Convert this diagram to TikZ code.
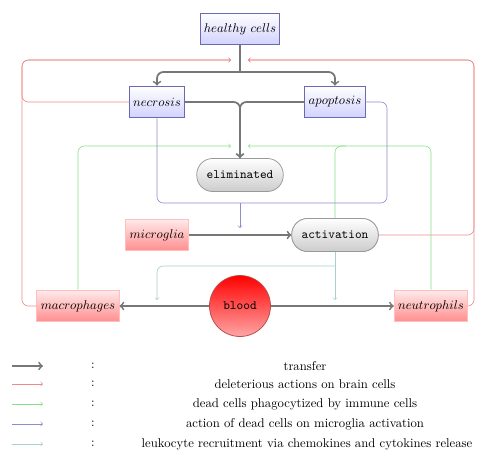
\documentclass[tikz,border=0pt]{standalone}
\usetikzlibrary{shadings}
\definecolor{bluebd}{HTML}{6A6AB0}
\definecolor{redln}{HTML}{EE8A8A}
\definecolor{greenln}{HTML}{88E088}
\definecolor{blueln}{HTML}{8C8CD0}
\definecolor{tealln}{HTML}{A8D0CC}
\definecolor{grayln}{HTML}{777777}
\tikzset{
  bluebox/.style={draw=bluebd, line width=0.8pt, top color=white, bottom color=blue!18,
    minimum height=25pt, inner xsep=3pt, font=\normalsize},
  redbox/.style={draw=red!25, line width=0.8pt, top color=red!8, bottom color=red!45,
    minimum height=25pt, inner xsep=3pt},
  pill/.style={draw=gray!80, line width=0.6pt, top color=white, bottom color=gray!40,
    rounded corners=12.5pt, minimum width=68pt, minimum height=26pt, font=\ttfamily},
  bloodnode/.style={circle, draw=red!60!black!70, line width=0.6pt, top color=red, bottom color=red!35,
    minimum size=48pt, font=\ttfamily},
  transfer/.style={draw=grayln, line width=1.4pt, ->, rounded corners=5pt},
  redline/.style={draw=redln, line width=0.5pt, rounded corners=5pt},
  greenline/.style={draw=greenln, line width=0.5pt, rounded corners=5pt},
  blueline/.style={draw=blueln, line width=0.5pt, rounded corners=5pt},
  tealline/.style={draw=tealln, line width=0.5pt, rounded corners=5pt},
  legtext/.style={anchor=center, inner sep=0pt}
}
\begin{document}
\begin{tikzpicture}[x=0.787pt, y=-0.787pt]
\useasboundingbox (0,0) rectangle (477,455);
% nodes
\node[bluebox] (hc) at (240,29) {$healthy\ cells$};
\node[bluebox] (nec) at (157,102) {$necrosis$};
\node[bluebox] (apo) at (335,102) {$apoptosis$};
\node[pill] (elim) at (240,175) {eliminated};
\node[redbox] (mic) at (157,235) {$microglia$};
\node[pill] (act) at (335,235) {activation};
\node[redbox] (mac) at (78,306) {$macrophages$};
\node[bloodnode] (blood) at (240,306) {blood};
\node[redbox] (neu) at (431,306) {$neutrophils$};
% coordinates
\coordinate (split) at (240,72);
\coordinate (redL) at (231,60);
\coordinate (redR) at (248,60);
\coordinate (gL) at (231,146);
\coordinate (gR) at (248,146);
\coordinate (bA) at (240,228);
\coordinate (tM) at (157,300);
\coordinate (tN) at (335,300);
% background lines
\begin{scope}[on background layer/.style={}]
\draw[redline,->] (nec.west) -| (22,60) -- (redL);
\draw[redline,->] (mac.west) -| (22,60) -- (redL);
\draw[redline,->] (act.east) -| (474,60) -- (redR);
\draw[redline,->] (neu.east) -| (474,60) -- (redR);
\draw[greenline,->] (mac.north) |- (gL);
\draw[greenline,->] (neu.north) |- (gR);
\draw[greenline] (346,146) -| (act.north);
\draw[blueline] (nec.south) |- (387,203) |- (apo.east);
\draw[blueline,->] (240,203) -- (bA);
\draw[tealline,->] (act.south) -- (tN);
\draw[tealline,->] (335,266) -| (tM);
\end{scope}
% transfer arrows
\draw[transfer,-] (hc.south) -- (split);
\draw[transfer] (split) -| (nec.north);
\draw[transfer] (split) -| (apo.north);
\draw[transfer] (nec.east) -| (elim.north);
\draw[transfer] (apo.west) -| (elim.north);
\draw[transfer] (mic.east) -- (act.west);
\draw[transfer] (blood.west) -- (mac.east);
\draw[transfer] (blood.east) -- (neu.west);
% redraw nodes on top
\node[pill] at (act) {activation};
% legend
\coordinate (l1a) at (12,366); \coordinate (l1b) at (43,366);
\coordinate (l2a) at (12,384); \coordinate (l2b) at (43,384);
\coordinate (l3a) at (12,404); \coordinate (l3b) at (43,404);
\coordinate (l4a) at (12,424); \coordinate (l4b) at (43,424);
\coordinate (l5a) at (12,444); \coordinate (l5b) at (43,444);
\draw[transfer] (l1a) -- (l1b);
\draw[redline,->] (l2a) -- (l2b);
\draw[greenline,->] (l3a) -- (l3b);
\draw[blueline,->] (l4a) -- (l4b);
\draw[tealline,->] (l5a) -- (l5b);
\node[legtext] (c1) at (93,366) {:};
\node[legtext] (c2) at (93,384) {:};
\node[legtext] (c3) at (93,404) {:};
\node[legtext] (c4) at (93,424) {:};
\node[legtext] (c5) at (93,444) {:};
\node[legtext] (t1) at (305,366) {transfer};
\node[legtext] (t2) at (305,384) {deleterious actions on brain cells};
\node[legtext] (t3) at (305,404) {dead cells phagocytized by immune cells};
\node[legtext] (t4) at (305,424) {action of dead cells on microglia activation};
\node[legtext] (t5) at (307,444) {leukocyte recruitment via chemokines and cytokines release};
\end{tikzpicture}
\end{document}
